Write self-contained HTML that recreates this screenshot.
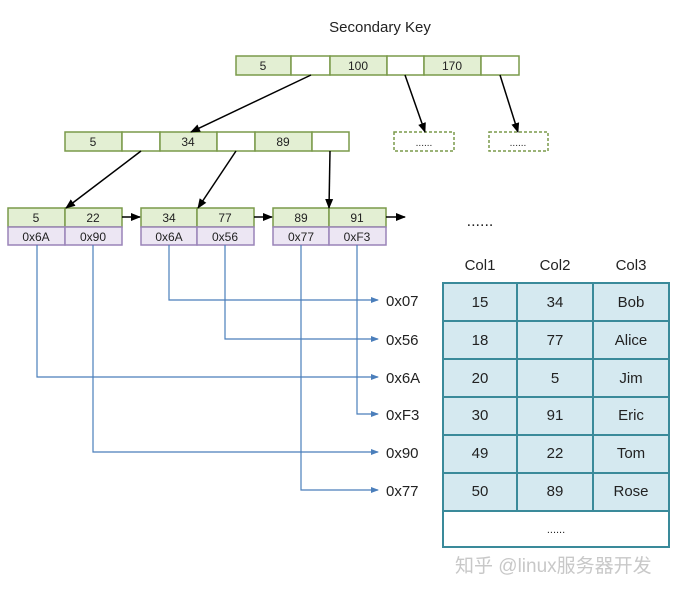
<!DOCTYPE html>
<html><head><style>
body{margin:0;background:#fff;}
svg text{font-family:"Liberation Sans","Noto Sans CJK SC",sans-serif;}
</style></head><body>
<svg width="683" height="592" viewBox="0 0 683 592" xmlns="http://www.w3.org/2000/svg">
<defs>
<marker id="a" markerWidth="10" markerHeight="10" refX="9" refY="5" orient="auto" markerUnits="userSpaceOnUse"><path d="M0,1 L10,5 L0,9 Z" fill="#000"/></marker>
<marker id="b" markerWidth="8" markerHeight="8" refX="7" refY="4" orient="auto" markerUnits="userSpaceOnUse"><path d="M0,1 L8,4 L0,7 Z" fill="#4a7ebb"/></marker>
</defs>
<text x="380" y="32" font-size="15" text-anchor="middle" fill="#222">Secondary Key</text>
<g stroke="#7a9a4a" stroke-width="1.5" font-size="12">
<rect x="236" y="56" width="55" height="19" fill="#e3efd3"/><rect x="291" y="56" width="39" height="19" fill="#fff"/>
<rect x="330" y="56" width="57" height="19" fill="#e3efd3"/><rect x="387" y="56" width="37" height="19" fill="#fff"/>
<rect x="424" y="56" width="57" height="19" fill="#e3efd3"/><rect x="481" y="56" width="38" height="19" fill="#fff"/>
<rect x="65" y="132" width="57" height="19" fill="#e3efd3"/><rect x="122" y="132" width="38" height="19" fill="#fff"/>
<rect x="160" y="132" width="57" height="19" fill="#e3efd3"/><rect x="217" y="132" width="38" height="19" fill="#fff"/>
<rect x="255" y="132" width="57" height="19" fill="#e3efd3"/><rect x="312" y="132" width="37" height="19" fill="#fff"/>
<rect x="394" y="132" width="60" height="19" fill="#fff" stroke-dasharray="3,2"/>
<rect x="489" y="132" width="59" height="19" fill="#fff" stroke-dasharray="3,2"/>
<rect x="8" y="208" width="57" height="19" fill="#e3efd3"/><rect x="65" y="208" width="57" height="19" fill="#e3efd3"/>
<rect x="141" y="208" width="56" height="19" fill="#e3efd3"/><rect x="197" y="208" width="57" height="19" fill="#e3efd3"/>
<rect x="273" y="208" width="56" height="19" fill="#e3efd3"/><rect x="329" y="208" width="57" height="19" fill="#e3efd3"/>
</g>
<g stroke="#9a84b8" stroke-width="1.5" fill="#ece6f3">
<rect x="8" y="227" width="57" height="18"/><rect x="65" y="227" width="57" height="18"/>
<rect x="141" y="227" width="56" height="18"/><rect x="197" y="227" width="57" height="18"/>
<rect x="273" y="227" width="56" height="18"/><rect x="329" y="227" width="57" height="18"/>
</g>
<g font-size="12" text-anchor="middle" fill="#222">
<text x="263" y="70">5</text><text x="358" y="70">100</text><text x="452" y="70">170</text>
<text x="93" y="146">5</text><text x="188" y="146">34</text><text x="283" y="146">89</text>
<text x="424" y="146" font-size="10">......</text><text x="518" y="146" font-size="10">......</text>
<text x="36" y="222">5</text><text x="93" y="222">22</text><text x="169" y="222">34</text><text x="225" y="222">77</text><text x="301" y="222">89</text><text x="357" y="222">91</text>
<text x="36" y="241">0x6A</text><text x="93" y="241">0x90</text><text x="169" y="241">0x6A</text><text x="225" y="241">0x56</text><text x="301" y="241">0x77</text><text x="357" y="241">0xF3</text>
</g>
<g stroke="#000" stroke-width="1.5" marker-end="url(#a)">
<line x1="311" y1="75" x2="191" y2="132"/><line x1="405" y1="75" x2="425" y2="132"/><line x1="500" y1="75" x2="518" y2="132"/>
<line x1="141" y1="151" x2="66" y2="208"/><line x1="236" y1="151" x2="198" y2="208"/><line x1="330" y1="151" x2="329" y2="208"/>
<line x1="122" y1="217" x2="140" y2="217"/><line x1="254" y1="217" x2="272" y2="217"/><line x1="386" y1="217" x2="405" y2="217"/>
</g>
<text x="480" y="226" font-size="16" text-anchor="middle" fill="#222">......</text>
<g stroke="#4a7ebb" stroke-width="1.2" fill="none">
<path d="M169,245 V300 H378" marker-end="url(#b)"/>
<path d="M225,245 V339 H378" marker-end="url(#b)"/>
<path d="M37,245 V377 H378" marker-end="url(#b)"/>
<path d="M357,245 V414 H378" marker-end="url(#b)"/>
<path d="M93,245 V452 H378" marker-end="url(#b)"/>
<path d="M301,245 V490 H378" marker-end="url(#b)"/>
</g>
<g font-size="15" fill="#222">
<text x="386" y="306">0x07</text><text x="386" y="345">0x56</text><text x="386" y="383">0x6A</text>
<text x="386" y="420">0xF3</text><text x="386" y="458">0x90</text><text x="386" y="496">0x77</text>
</g>
<g font-size="15" fill="#222" text-anchor="middle">
<text x="480" y="270">Col1</text><text x="555" y="270">Col2</text><text x="631" y="270">Col3</text>
</g>
<rect x="443" y="283" width="226" height="228" fill="#d5e9f0"/>
<rect x="443" y="511" width="226" height="36" fill="#fff" stroke="#3a8a9a" stroke-width="2"/>
<g stroke="#3a8a9a" stroke-width="2" fill="none">
<rect x="443" y="283" width="226" height="228"/>
<line x1="517" y1="283" x2="517" y2="511"/><line x1="593" y1="283" x2="593" y2="511"/>
<line x1="443" y1="321" x2="669" y2="321"/><line x1="443" y1="359" x2="669" y2="359"/><line x1="443" y1="397" x2="669" y2="397"/>
<line x1="443" y1="435" x2="669" y2="435"/><line x1="443" y1="473" x2="669" y2="473"/>
</g>
<g font-size="15" fill="#222" text-anchor="middle">
<text x="480" y="307">15</text><text x="555" y="307">34</text><text x="631" y="307">Bob</text>
<text x="480" y="345">18</text><text x="555" y="345">77</text><text x="631" y="345">Alice</text>
<text x="480" y="383">20</text><text x="555" y="383">5</text><text x="631" y="383">Jim</text>
<text x="480" y="420">30</text><text x="555" y="420">91</text><text x="631" y="420">Eric</text>
<text x="480" y="458">49</text><text x="555" y="458">22</text><text x="631" y="458">Tom</text>
<text x="480" y="496">50</text><text x="555" y="496">89</text><text x="631" y="496">Rose</text>
<text x="556" y="533" font-size="11">......</text>
</g>
<text x="455" y="572" font-size="19" fill="#c8c8c8">知乎 @linux服务器开发</text>
</svg>
</body></html>
